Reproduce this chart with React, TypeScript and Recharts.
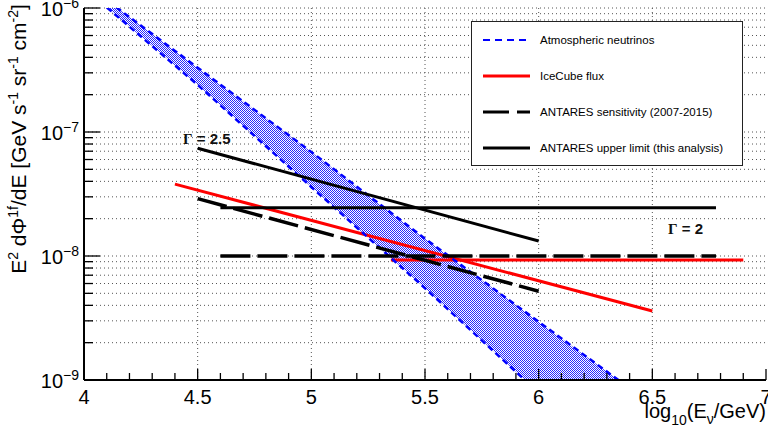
import React from "react";
import { ComposedChart, Line, Area, XAxis, YAxis, CartesianGrid, Legend } from "recharts";

// atmospheric neutrino band, edges
const bandLogE = [4.0, 4.5, 5.0, 5.5, 6.0, 6.5];
const bandUpper = [1.58e-6, 3.3e-7, 6.9e-8, 1.38e-8, 2.95e-9, 6.3e-10];
const bandLower = [1.45e-6, 2.4e-7, 3.6e-8, 5.5e-9, 7.9e-10, 1.26e-10];

// IceCube flux
const iceDiagE = [4.4, 6.5];
const iceDiagFlux = [3.8e-8, 3.6e-9];
const iceFlatE = [5.35, 6.9];
const iceFlatFlux = [9.3e-9, 9.3e-9];

// ANTARES sensitivity (2007-2015)
const sensDiagE = [4.5, 6.0];
const sensDiagFlux = [2.9e-8, 5.2e-9];
const sensFlatE = [4.6, 6.78];
const sensFlatFlux = [1.0e-8, 1.0e-8];

// ANTARES upper limit (this analysis)
const ulDiagE = [4.5, 6.0];
const ulDiagFlux = [7.4e-8, 1.32e-8];
const ulFlatE = [4.6, 6.78];
const ulFlatFlux = [2.45e-8, 2.45e-8];

const xTicks = [4, 4.1, 4.2, 4.3, 4.4, 4.5, 4.6, 4.7, 4.8, 4.9, 5, 5.1, 5.2, 5.3, 5.4, 5.5, 5.6, 5.7, 5.8, 5.9, 6, 6.1, 6.2, 6.3, 6.4, 6.5, 6.6, 6.7, 6.8, 6.9, 7];
const xGrid = [4.5, 5, 5.5, 6, 6.5];
const yTicks = [
    1e-9, 2e-9, 3e-9, 4e-9, 5e-9, 6e-9, 7e-9, 8e-9, 9e-9,
    1e-8, 2e-8, 3e-8, 4e-8, 5e-8, 6e-8, 7e-8, 8e-8, 9e-8,
    1e-7, 2e-7, 3e-7, 4e-7, 5e-7, 6e-7, 7e-7, 8e-7, 9e-7,
    1e-6,
];

const legendItems = [
    { name: "Atmospheric neutrinos", color: "#0000ff", dash: "7 5", width: 2 },
    { name: "IceCube flux", color: "#ff0000", dash: undefined, width: 3 },
    { name: "ANTARES sensitivity (2007-2015)", color: "#000000", dash: "26 8", width: 3 },
    { name: "ANTARES upper limit (this analysis)", color: "#000000", dash: undefined, width: 3 },
];

const FONT = '"Liberation Sans", Arial, Helvetica, sans-serif';

const pts = (xs: number[], ys: number[]) => xs.map((x, i) => ({ x, y: ys[i] }));
const bandData = bandLogE.map((x, i) => ({ x, range: [bandLower[i], bandUpper[i]], hi: bandUpper[i], lo: bandLower[i] }));

const isMajorY = (v: number) => Math.abs(Math.log10(v) - Math.round(Math.log10(v))) < 1e-6;
const isMajorX = (v: number) => Math.abs(v * 2 - Math.round(v * 2)) < 1e-6;

const LeftTick = ({ x, y, payload }: any) => {
    const v = payload.value;
    const major = isMajorY(v);
    return (
        <g>
            <line x1={x} x2={x + (major ? 16 : 9)} y1={y} y2={y} stroke="#000" strokeWidth={1.3} />
            {major && (
                <text x={x - 5} y={y + 8} textAnchor="end" fontSize={20} fontFamily={FONT} fill="#000">
                    10<tspan dy={-8} fontSize={14}>−{Math.abs(Math.round(Math.log10(v)))}</tspan>
                </text>
            )}
        </g>
    );
};

const RightTick = ({ x, y, payload }: any) => {
    const major = isMajorY(payload.value);
    return <line x1={x} x2={x - (major ? 16 : 9)} y1={y} y2={y} stroke="#000" strokeWidth={1.3} />;
};

const BottomTick = ({ x, y, payload }: any) => {
    const v = payload.value;
    const major = isMajorX(v);
    return (
        <g>
            <line x1={x} x2={x} y1={y} y2={y - (major ? 11 : 7)} stroke="#000" strokeWidth={1.3} />
            {major && (
                <text x={x} y={y + 24} textAnchor="middle" fontSize={20} fontFamily={FONT} fill="#000">
                    {String(v)}
                </text>
            )}
        </g>
    );
};

const TopTick = ({ x, y, payload }: any) => {
    const major = isMajorX(payload.value);
    return <line x1={x} x2={x} y1={y} y2={y + (major ? 11 : 7)} stroke="#000" strokeWidth={1.3} />;
};

const YTitle = ({ viewBox }: any) => {
    const cx = viewBox.x + 26;
    const cy = 139;
    return (
        <text x={cx} y={cy} transform={`rotate(-90 ${cx} ${cy})`} textAnchor="middle" fontSize={21} fontFamily={FONT} fill="#000">
            E<tspan dy={-8} fontSize={14}>2</tspan>
            <tspan dy={8}> dΦ</tspan>
            <tspan dy={-8} fontSize={14}>1f</tspan>
            <tspan dy={8}>/dE [GeV s</tspan>
            <tspan dy={-8} fontSize={14}>-1</tspan>
            <tspan dy={8}> sr</tspan>
            <tspan dy={-8} fontSize={14}>-1</tspan>
            <tspan dy={8}> cm</tspan>
            <tspan dy={-8} fontSize={14}>-2</tspan>
            <tspan dy={8}>]</tspan>
        </text>
    );
};

const XTitle = ({ viewBox }: any) => {
    const rx = viewBox.x + viewBox.width;
    return (
        <text x={rx} y={418} textAnchor="end" fontSize={20} fontFamily={FONT} fill="#000">
            log<tspan dy={7} fontSize={14}>10</tspan>
            <tspan dy={-7}>(E</tspan>
            <tspan dy={6} fontSize={14}>ν</tspan>
            <tspan dy={-6}>/GeV)</tspan>
        </text>
    );
};

const LegendBox = () => (
    <div style={{ width: 272, height: 145, boxSizing: "border-box", border: "1px solid #222", background: "#fff", fontFamily: FONT, fontSize: 11.5, color: "#000" }}>
        {legendItems.map((it) => (
            <div key={it.name} style={{ height: 36, display: "flex", alignItems: "center" }}>
                <svg width={68} height={10} style={{ flex: "none" }}>
                    <line x1={11} x2={58} y1={5} y2={5} stroke={it.color} strokeWidth={it.width} strokeDasharray={it.dash} />
                </svg>
                <span>{it.name}</span>
            </div>
        ))}
    </div>
);

export default function App() {
    return (
        <div style={{ position: "absolute", left: 0, top: 0, width: 768, height: 432, background: "#fff", overflow: "hidden" }}>
            <ComposedChart width={768} height={432} margin={{ top: 8, right: 2, left: 0, bottom: 0 }}>
                <defs>
                    <pattern id="atmHatch" patternUnits="userSpaceOnUse" width={2} height={2}>
                        <rect x={0} y={0} width={2} height={2} fill="#ffffff" />
                        <rect x={0} y={0} width={1} height={1} fill="#1010ff" />
                        <rect x={1} y={1} width={1} height={1} fill="#1010ff" />
                    </pattern>
                </defs>
                <CartesianGrid stroke="#555" strokeDasharray="1 3" verticalValues={xGrid} />
                <XAxis dataKey="x" type="number" domain={[4, 7]} ticks={xTicks} interval={0} allowDataOverflow
                    height={52} tickSize={0} tickMargin={0} tick={BottomTick} axisLine={{ stroke: "#000", strokeWidth: 2 }} label={XTitle} />
                <XAxis xAxisId="top" orientation="top" type="number" domain={[4, 7]} ticks={xTicks} interval={0} allowDataOverflow
                    height={0} tickSize={0} tickMargin={0} tick={TopTick} axisLine={{ stroke: "#000", strokeWidth: 2 }} />
                <YAxis scale="log" type="number" domain={[1e-9, 1e-6]} ticks={yTicks} interval={0} allowDataOverflow
                    width={84} tickSize={0} tickMargin={0} tick={LeftTick} axisLine={{ stroke: "#000", strokeWidth: 2 }} label={YTitle} />
                <YAxis yAxisId="right" orientation="right" scale="log" type="number" domain={[1e-9, 1e-6]} ticks={yTicks} interval={0} allowDataOverflow
                    width={0} tickSize={0} tickMargin={0} tick={RightTick} axisLine={{ stroke: "#000", strokeWidth: 2 }} />
                <Legend layout="vertical" align="center" verticalAlign="middle" content={LegendBox}
                    wrapperStyle={{ position: "absolute", left: 471, top: 21, width: 272, height: 145 }} />

                <Line data={pts(iceDiagE, iceDiagFlux)} dataKey="y" stroke="#ff0000" strokeWidth={3} dot={false} activeDot={false} isAnimationActive={false} />
                <Line data={pts(iceFlatE, iceFlatFlux)} dataKey="y" stroke="#ff0000" strokeWidth={3} dot={false} activeDot={false} isAnimationActive={false} />

                <Area data={bandData} dataKey="range" stroke="none" fill="url(#atmHatch)" fillOpacity={0.9} dot={false} activeDot={false} isAnimationActive={false} />
                <Line data={bandData} dataKey="hi" stroke="#0000ff" strokeWidth={2.5} strokeDasharray="6 4" dot={false} activeDot={false} isAnimationActive={false} />
                <Line data={bandData} dataKey="lo" stroke="#0000ff" strokeWidth={2.5} strokeDasharray="6 4" dot={false} activeDot={false} isAnimationActive={false} />

                <Line data={pts(sensDiagE, sensDiagFlux)} dataKey="y" stroke="#000" strokeWidth={3.5} strokeDasharray="30 7" dot={false} activeDot={false} isAnimationActive={false} />
                <Line data={pts(sensFlatE, sensFlatFlux)} dataKey="y" stroke="#000" strokeWidth={3.5} strokeDasharray="30 7" dot={false} activeDot={false} isAnimationActive={false} />
                <Line data={pts(ulDiagE, ulDiagFlux)} dataKey="y" stroke="#000" strokeWidth={3} dot={false} activeDot={false} isAnimationActive={false} />
                <Line data={pts(ulFlatE, ulFlatFlux)} dataKey="y" stroke="#000" strokeWidth={3} dot={false} activeDot={false} isAnimationActive={false} />
            </ComposedChart>
            <div style={{ position: "absolute", left: 183, top: 130, fontSize: 15, fontWeight: "bold", fontFamily: FONT, color: "#111", whiteSpace: "nowrap" }}>
                <span style={{ fontFamily: '"Liberation Serif", serif' }}>Γ</span> = 2.5
            </div>
            <div style={{ position: "absolute", left: 668, top: 220, fontSize: 15, fontWeight: "bold", fontFamily: FONT, color: "#111", whiteSpace: "nowrap" }}>
                <span style={{ fontFamily: '"Liberation Serif", serif' }}>Γ</span> = 2
            </div>
        </div>
    );
}
